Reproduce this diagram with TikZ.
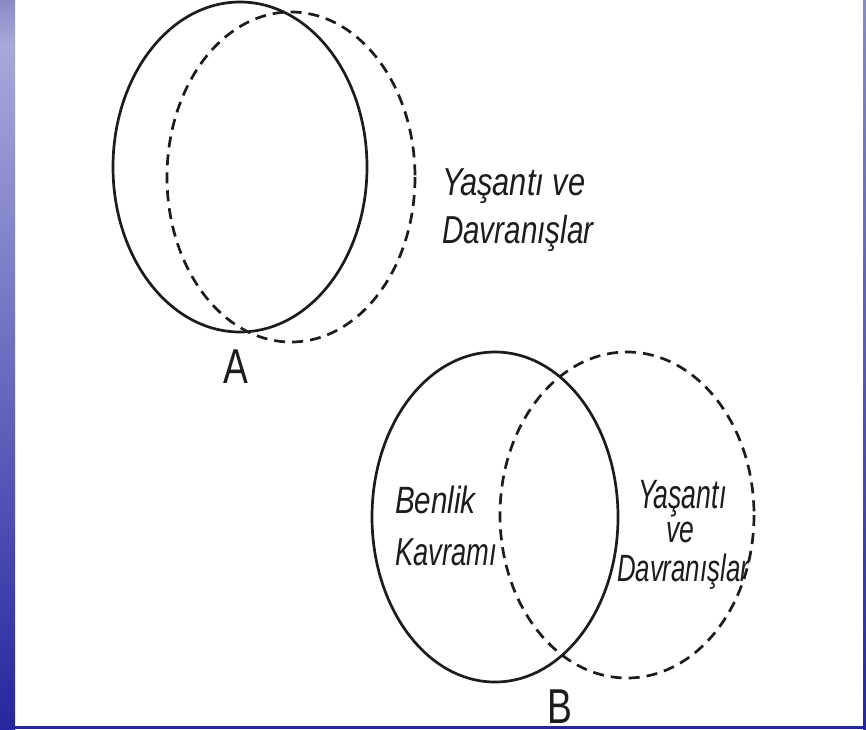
\documentclass[tikz,border=0pt]{standalone}
\usepackage{fontspec}
\setmainfont{Liberation Sans}
\usetikzlibrary{shapes.geometric}
\definecolor{ink}{HTML}{1C1C1C}
\definecolor{bluelight}{HTML}{A8A8DC}
\definecolor{bluetop}{HTML}{8A8AC4}
\definecolor{bluemid}{HTML}{4848B4}
\definecolor{bluedark}{HTML}{2626A0}
\tikzset{
  solidline/.style={draw=ink, line width=2.7pt},
  dashline/.style={draw=ink, line width=2.7pt, dash pattern=on 11pt off 7pt},
  hand/.style={inner sep=0pt, outer sep=0pt, text=ink, font=\itshape},
  letter/.style={inner sep=0pt, outer sep=0pt, text=ink, font=\fontsize{49}{49}\selectfont}
}
\begin{document}
\begin{tikzpicture}[x=1pt,y=-1pt]
\useasboundingbox (0,0) rectangle (866,729);
\fill[white] (0,0) rectangle (866,729);
% circles A
\draw[solidline] (240,167) ellipse [x radius=127, y radius=165];
\draw[dashline] (291,177) ellipse [x radius=124, y radius=165];
% circles B
\draw[solidline] (495,517) ellipse [x radius=123, y radius=165];
\draw[dashline] (627,515) ellipse [x radius=127, y radius=163];
% texts A
\node[hand, anchor=base west] (a1) at (442,195) {\fontsize{39}{39}\selectfont\scalebox{0.79}[1]{Yaşantı ve}};
\node[hand, anchor=base west] (a2) at (442,243) {\fontsize{39}{39}\selectfont\scalebox{0.76}[1]{Davranışlar}};
\node[letter, anchor=base] (la) at (236,383) {\scalebox{0.76}[1]{A}};
% texts B
\node[hand, anchor=base west] (b1) at (395,513) {\fontsize{38}{38}\selectfont\scalebox{0.78}[1]{Benlik}};
\node[hand, anchor=base west] (b2) at (395,565) {\fontsize{39}{39}\selectfont\scalebox{0.7}[1]{Kavramı}};
\node[hand, anchor=base west] (b3) at (638,508) {\fontsize{41}{41}\selectfont\scalebox{0.65}[1]{Yaşantı}};
\node[hand, anchor=base west] (b4) at (666,542) {\fontsize{38}{38}\selectfont\scalebox{0.7}[1]{ve}};
\node[hand, anchor=base west] (b5) at (617,581) {\fontsize{38}{38}\selectfont\scalebox{0.68}[1]{Davranışlar}};
\node[letter, anchor=base] (lb) at (560,723) {\scalebox{0.76}[1]{B}};
% blue frame
\shade[top color=bluetop, bottom color=bluelight] (0,0) rectangle (15,45);
\shade[top color=bluelight, middle color=bluemid, bottom color=bluedark] (0,45) rectangle (15,729);
\shade[top color=bluetop, bottom color=bluedark] (863,0) rectangle (866,729);
\fill[bluedark] (15,726) rectangle (866,729);
\end{tikzpicture}
\end{document}
